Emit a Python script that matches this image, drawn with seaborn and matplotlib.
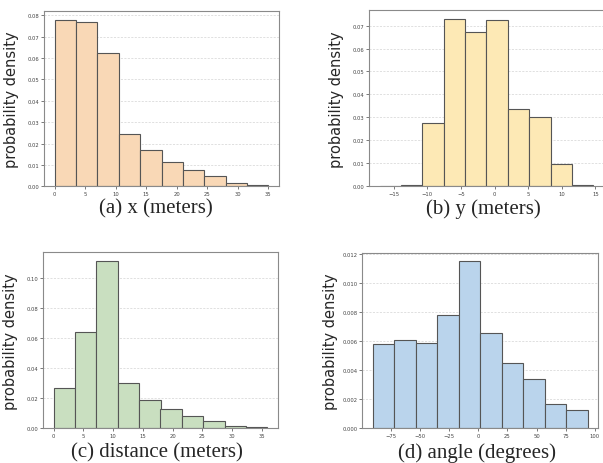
import numpy as np
import pandas as pd
import matplotlib
matplotlib.use("Agg")
import matplotlib.pyplot as plt
import seaborn as sns

# ---- data ----
x_range = (0.0, 35.0)
x_density = [0.0780, 0.0768, 0.0622, 0.0244, 0.0172, 0.0112, 0.0075, 0.0046, 0.0015, 0.0005]

y_range = (-17.1, 14.7)
y_density = [0.0002, 0.0007, 0.0274, 0.0730, 0.0670, 0.0723, 0.0335, 0.0300, 0.0098, 0.0005]

dist_range = (0.0, 35.9)
dist_density = [0.0271, 0.0640, 0.1118, 0.0300, 0.0187, 0.0127, 0.0080, 0.0047, 0.0013, 0.0007]

angle_range = (-90.2, 93.8)
angle_density = [0.00584, 0.00611, 0.00591, 0.00779, 0.01152, 0.00660, 0.00453, 0.00339, 0.00167, 0.00124]

captions = ["(a) x (meters)", "(b) y (meters)", "(c) distance (meters)", "(d) angle (degrees)"]
ylabel = "probability density"

# ---- figure ----
sns.set_style("white")
fig = plt.figure(figsize=(6.03, 4.64), dpi=100)
W, H = 603.0, 464.0

def rect(l, t, r, b):
    return [l / W, 1 - b / H, (r - l) / W, (b - t) / H]

panels = [
    (rect(44, 12.3, 279, 187.3), x_range, x_density, "#F9D8B6", (156, 209)),
    (rect(369, 11.3, 604, 187.3), y_range, y_density, "#FDE9B5", (483, 209)),
    (rect(43, 253.3, 278, 429.3), dist_range, dist_density, "#C9DFC0", (157, 453)),
    (rect(362.3, 254, 598.3, 429.3), angle_range, angle_density, "#BAD4EC", (477, 453)),
]

for (pos, rng, dens, col, cap_xy), cap in zip(panels, captions):
    ax = fig.add_axes(pos)
    nb = len(dens)
    edges = np.linspace(rng[0], rng[1], nb + 1)
    centers = (edges[:-1] + edges[1:]) / 2
    df = pd.DataFrame({"value": centers, "density": dens})
    sns.histplot(data=df, x="value", weights="density", bins=nb, binrange=rng,
                 stat="count", color=col, alpha=1.0, edgecolor="#555555",
                 linewidth=0.8, ax=ax)
    ax.set_xlabel("")
    ax.set_ylabel(ylabel, fontsize=10.5, family="DejaVu Sans")
    ax.yaxis.set_label_coords(-0.105, 0.5)
    ax.grid(axis="y", linestyle=(0, (3, 2)), linewidth=0.5, color="#d3d3d3")
    ax.grid(axis="x", visible=False)
    ax.set_axisbelow(True)
    for s in ax.spines.values():
        s.set_color("#8a8a8a")
        s.set_linewidth(0.8)
        s.set_visible(True)
    ax.tick_params(axis="both", labelsize=3.8, length=2, width=0.5, pad=1.5,
                   colors="#444444", bottom=True, left=True)
    fig.text(cap_xy[0] / W, 1 - cap_xy[1] / H, cap, ha="center", va="center",
             fontsize=15, family="Liberation Serif")

fig.savefig("out.png", dpi=100)
